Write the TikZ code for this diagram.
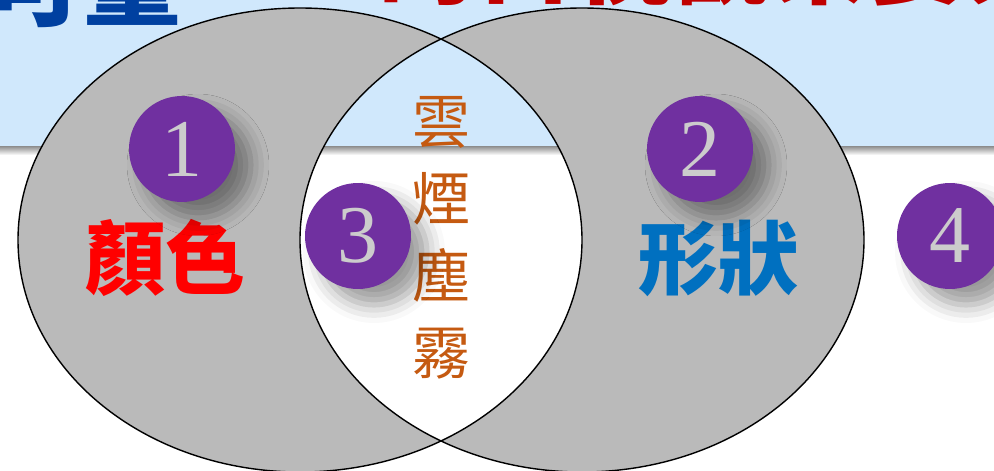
\documentclass[tikz,border=0pt]{standalone}
\usepackage{fontspec}
\setmainfont{Liberation Serif}
\newfontfamily\cjk{Noto Sans CJK TC}
\usetikzlibrary{shadows.blur}
\definecolor{bandblue}{RGB}{208,232,252}
\definecolor{venngray}{RGB}{186,186,186}
\definecolor{numpurple}{RGB}{112,48,160}
\definecolor{titleblue}{RGB}{0,64,160}
\definecolor{titlered}{RGB}{192,0,0}
\definecolor{colorred}{RGB}{255,0,0}
\definecolor{shapeblue}{RGB}{0,112,192}
\definecolor{fogbrown}{RGB}{197,90,17}
\begin{document}
\begin{tikzpicture}[
  x=1pt, y=1pt,
  num/.style={circle, fill=numpurple, minimum size=106pt, inner sep=0pt,
    text=black!20, font=\fontsize{82}{82}\selectfont,
    blur shadow={shadow xshift=16pt, shadow yshift=-16pt,
      shadow blur radius=18pt, shadow opacity=40}},
  word/.style={font=\cjk\bfseries\fontsize{80}{80}\selectfont, inner sep=0pt},
  title/.style={font=\cjk\bfseries\fontsize{98}{98}\selectfont, inner sep=0pt}
]
\useasboundingbox (0,0) rectangle (994,-471);
\clip (0,0) rectangle (994,-471);

% slide background
\fill[bandblue] (0,0) rectangle (994,-146);
\shade[top color=black!45, bottom color=white] (0,-146) rectangle (994,-155);

% title, cut by the top edge
\node[title, text=titleblue, anchor=south east] (titleleft) at (182,-28) {可量};
\node[title, text=titlered, anchor=base west] (titleright) at (378,3) {的目視觀察要素};
\fill[bandblue] (370,-10) rectangle (994,-60);

% two sets
\fill[venngray, even odd rule] (300,-240) ellipse (282 and 232)
  (582,-240) ellipse (282 and 232);
\draw[line width=1.4pt] (300,-240) ellipse (282 and 232);
\draw[line width=1.4pt] (582,-240) ellipse (282 and 232);

% labels
\node[word, text=colorred] (color) at (165,-258) {顏色};
\node[word, text=shapeblue] (shape) at (718,-258) {形狀};
\node[inner sep=0pt, text=fogbrown, align=center,
  font=\cjk\fontsize{58}{77}\selectfont] (fog) at (441,-238) {雲\\煙\\塵\\霧};

% numbers
\node[num] (n1) at (182,-149) {1};
\node[num] (n2) at (700,-149) {2};
\node[num] (n3) at (358,-236) {3};
\node[num] (n4) at (950,-236) {4};

\end{tikzpicture}
\end{document}
